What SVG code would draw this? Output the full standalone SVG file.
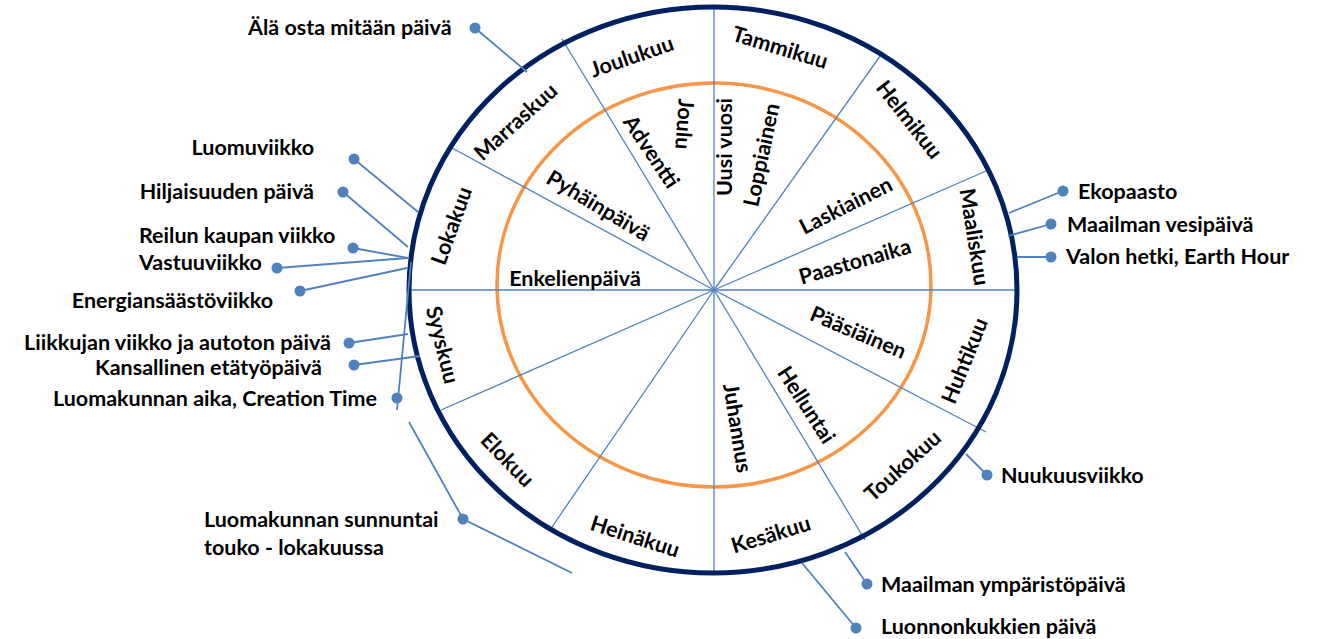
<svg xmlns="http://www.w3.org/2000/svg" width="1319" height="639" viewBox="0 0 1319 639">
<style>
text{font-family:Lato,"Open Sans","Liberation Sans",sans-serif;font-weight:bold;font-size:21.5px;fill:#000}
.m{text-anchor:middle}
.e{text-anchor:end}
.s{font-size:20.5px}
.spoke{stroke:#4F81BD;stroke-width:1.3;fill:none}
.lead{stroke:#4F81BD;stroke-width:1.8;fill:none}
.dot{fill:#4F81BD}
</style>
<rect width="1319" height="639" fill="#fff"/>
<g id="ring">
<ellipse cx="714" cy="285" rx="217" ry="202" fill="none" stroke="#F79646" stroke-width="3.5"/>
</g>
<g id="spokes" class="spoke">
<line x1="714" y1="290" x2="714" y2="7"/>
<line x1="714" y1="290" x2="883" y2="52"/>
<line x1="714" y1="290" x2="986" y2="171"/>
<line x1="714" y1="290" x2="1017" y2="290"/>
<line x1="714" y1="290" x2="986" y2="432"/>
<line x1="714" y1="290" x2="865" y2="540"/>
<line x1="714" y1="290" x2="714" y2="572"/>
<line x1="714" y1="290" x2="550" y2="530"/>
<line x1="714" y1="290" x2="441" y2="410"/>
<line x1="714" y1="290" x2="409" y2="290"/>
<line x1="714" y1="290" x2="452" y2="148"/>
<line x1="714" y1="290" x2="562" y2="39"/>
</g>
<g id="outer-ring">
<ellipse cx="713" cy="290" rx="304" ry="283" fill="none" stroke="#002060" stroke-width="5"/>
</g>
<g id="connectors">
<line class="lead" x1="475" y1="28" x2="527" y2="72"/>
<line class="lead" x1="354" y1="159" x2="418" y2="212"/>
<line class="lead" x1="343" y1="192" x2="408" y2="247"/>
<line class="lead" x1="353" y1="248" x2="408" y2="258"/>
<line class="lead" x1="277" y1="268" x2="408" y2="258"/>
<line class="lead" x1="300" y1="291" x2="407" y2="268"/>
<line class="lead" x1="411" y1="262" x2="397" y2="410"/>
<line class="lead" x1="349" y1="343" x2="408" y2="334"/>
<line class="lead" x1="354" y1="365" x2="420" y2="356"/>
<polyline class="lead" points="409,422 463,519 572,573"/>
<line class="lead" x1="1063" y1="191" x2="1009" y2="213"/>
<line class="lead" x1="1051" y1="224" x2="1008" y2="236"/>
<line class="lead" x1="1051" y1="257" x2="1017" y2="257"/>
<line class="lead" x1="987" y1="475" x2="966" y2="454"/>
<line class="lead" x1="867" y1="584" x2="845" y2="552"/>
<line class="lead" x1="856" y1="628" x2="802" y2="563"/>
<g class="dot">
<circle cx="475" cy="28" r="5.5"/>
<circle cx="354" cy="159" r="5.5"/>
<circle cx="343" cy="192" r="5.5"/>
<circle cx="353" cy="248" r="5.5"/>
<circle cx="277" cy="268" r="5.5"/>
<circle cx="300" cy="291" r="5.5"/>
<circle cx="349" cy="343" r="5.5"/>
<circle cx="354" cy="365" r="5.5"/>
<circle cx="397" cy="398" r="5.5"/>
<circle cx="463" cy="519" r="5.5"/>
<circle cx="1063" cy="191" r="5.5"/>
<circle cx="1051" cy="224" r="5.5"/>
<circle cx="1051" cy="257" r="5.5"/>
<circle cx="987" cy="475" r="5.5"/>
<circle cx="867" cy="584" r="5.5"/>
<circle cx="856" cy="628" r="5.5"/>
</g>
</g>
<g id="months" class="m">
<text id="joulukuu" transform="translate(632,57) rotate(-19)" y="7">Joulukuu</text>
<text id="tammikuu" transform="translate(780,48) rotate(17)" y="7">Tammikuu</text>
<text id="helmikuu" transform="translate(909,120) rotate(52)" y="7">Helmikuu</text>
<text id="maaliskuu" transform="translate(974,237) rotate(81)" y="7">Maaliskuu</text>
<text id="huhtikuu" transform="translate(965,361) rotate(-68)" y="7">Huhtikuu</text>
<text id="toukokuu" transform="translate(903,466) rotate(-42)" y="7">Toukokuu</text>
<text id="kesakuu" transform="translate(771,535) rotate(-17)" y="7">Kesäkuu</text>
<text id="heinakuu" transform="translate(635,537) rotate(18)" y="7">Heinäkuu</text>
<text id="elokuu" transform="translate(507,460) rotate(46)" y="7">Elokuu</text>
<text id="syyskuu" transform="translate(442,345) rotate(76)" y="7">Syyskuu</text>
<text id="lokakuu" transform="translate(452,226) rotate(-70)" y="7">Lokakuu</text>
<text id="marraskuu" transform="translate(516,122) rotate(-42)" y="7">Marraskuu</text>
</g>
<g id="holidays" class="m">
<text id="joulu" transform="translate(684,124) rotate(94)" y="7">Joulu</text>
<text id="adventti" transform="translate(651,152) rotate(56)" y="7">Adventti</text>
<text id="uusivuosi" transform="translate(725,147) rotate(-90)" y="7">Uusi vuosi</text>
<text id="loppiainen" transform="translate(762,155) rotate(-78)" y="7">Loppiainen</text>
<text id="laskiainen" transform="translate(846,206) rotate(-27)" y="7">Laskiainen</text>
<text id="paastonaika" transform="translate(855,262) rotate(-16)" y="7">Paastonaika</text>
<text id="pyhainpaiva" transform="translate(598,206) rotate(31)" y="7">Pyhäinpäivä</text>
<text id="enkelienpaiva" transform="translate(575,279)" y="7">Enkelienpäivä</text>
<text id="paasiainen" transform="translate(858,333) rotate(23)" y="7">Pääsiäinen</text>
<text id="helluntai" transform="translate(806,405) rotate(57)" y="7">Helluntai</text>
<text id="juhannus" transform="translate(737,428) rotate(81)" y="7">Juhannus</text>
</g>
<g id="events">
<text id="ala-osta" x="248" y="35">Älä osta mitään päivä</text>
<text id="luomuviikko" class="e" x="314" y="155">Luomuviikko</text>
<text id="hiljaisuus" class="e" x="314" y="199">Hiljaisuuden päivä</text>
<text id="reilu" x="139" y="243">Reilun kaupan viikko</text>
<text id="vastuu" x="139" y="270">Vastuuviikko</text>
<text id="energia" class="e" x="273" y="308">Energiansäästöviikko</text>
<text id="liikkuja" class="e s" x="331" y="350" textLength="307" lengthAdjust="spacingAndGlyphs">Liikkujan viikko ja autoton päivä</text>
<text id="etatyo" class="e s" x="322" y="375" textLength="227" lengthAdjust="spacingAndGlyphs">Kansallinen etätyöpäivä</text>
<text id="creation" class="e" x="377" y="406">Luomakunnan aika, Creation Time</text>
<text id="sunnuntai" x="204" y="527">Luomakunnan sunnuntai</text>
<text id="touko" x="204" y="555">touko - lokakuussa</text>
<text id="ekopaasto" x="1078" y="199">Ekopaasto</text>
<text id="vesipaiva" x="1067" y="232">Maailman vesipäivä</text>
<text id="earthhour" x="1066" y="264">Valon hetki, Earth Hour</text>
<text id="nuukuus" x="1001" y="483">Nuukuusviikko</text>
<text id="ymparisto" x="881" y="592">Maailman ympäristöpäivä</text>
<text id="kukat" x="881" y="634">Luonnonkukkien päivä</text>
</g>
</svg>
